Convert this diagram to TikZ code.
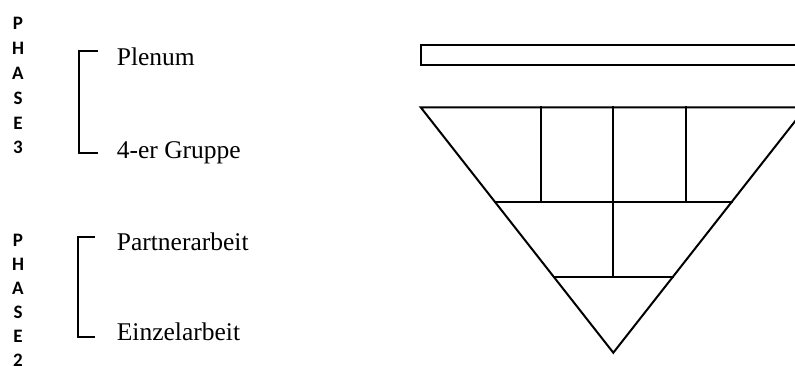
\documentclass[tikz,border=0pt]{standalone}
\usepackage{fontspec}
\setmainfont{Liberation Serif}
\newfontfamily\phasefont{Carlito}
\tikzset{
  lbl/.style={anchor=base west, inner sep=0pt, font=\fontsize{25.5}{30}\selectfont},
  phl/.style={anchor=center, inner sep=0pt, font=\phasefont\bfseries\fontsize{19}{22}\selectfont},
  ln/.style={line width=2pt, line cap=rect},
}
\begin{document}
\begin{tikzpicture}[x=1pt,y=-1pt]
\useasboundingbox (0,0) rectangle (795,365);
\clip (0,0) rectangle (795,365);
% Phase 3 letters
\foreach \c [count=\i from 0] in {P,H,A,S,E,3}
  \node[phl] (p3\i) at (18,23.7+24.8*\i) {\c};
% Phase 2 letters
\foreach \c [count=\i from 0] in {P,H,A,S,E,2}
  \node[phl] (p2\i) at (18,240+24*\i) {\c};
% labels
\node[lbl] (plenum) at (116.7,65.7) {Plenum};
\node[lbl] (gruppe) at (116.7,158) {4-er Gruppe};
\node[lbl] (partner) at (116.7,250) {Partnerarbeit};
\node[lbl] (einzel) at (116.7,340) {Einzelarbeit};
% brackets
\coordinate (b3t) at (96.5,51);
\coordinate (b3b) at (96.5,153.3);
\draw[ln] (b3t) -- (79.3,51) -- (79.3,153.3) -- (b3b);
\coordinate (b2t) at (94.3,237.3);
\coordinate (b2b) at (94.3,336.7);
\draw[ln] (b2t) -- (77.7,237.3) -- (77.7,336.7) -- (b2b);
% top bar
\draw[ln] (820,45) -- (420.7,45) -- (420.7,64.7) -- (820,64.7);
% triangle
\coordinate (tl) at (420.7,107.3);
\coordinate (tr) at (806,107.3);
\coordinate (ap) at (613.3,352.7);
\draw[ln, line join=miter] (tl) -- (tr) -- (ap) -- cycle;
% row 1
\draw[ln] (540.7,107.3) -- (540.7,202);
\draw[ln] (613.1,107.3) -- (613.1,202);
\draw[ln] (685.7,107.3) -- (685.7,202);
\draw[ln] (495.1,202) -- (731.5,202);
% row 2
\draw[ln] (613.1,202) -- (613.1,276.7);
\draw[ln] (553.9,276.7) -- (672.7,276.7);
\end{tikzpicture}
\end{document}
